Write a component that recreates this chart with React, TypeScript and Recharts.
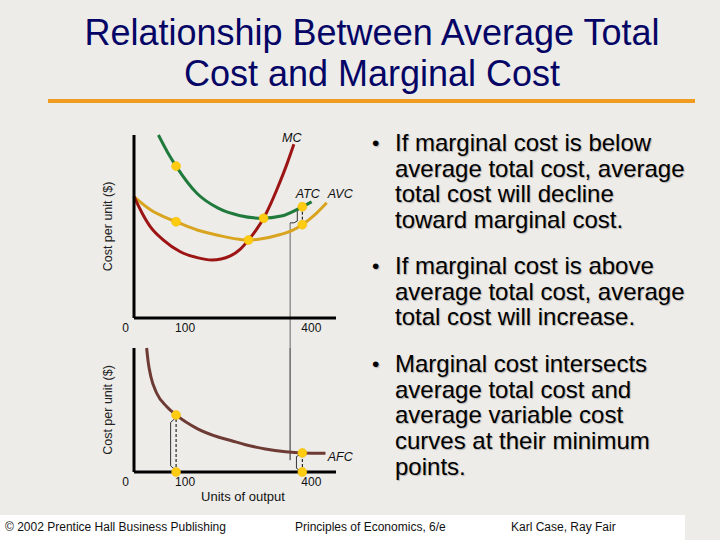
import { ComposedChart, Line, XAxis, YAxis, ReferenceLine, ReferenceDot } from 'recharts';

// cost curves, top panel: [units of output, cost per unit]
const ATC = [[58, 100], [80, 90.5], [100, 83], [150, 68], [200, 60], [250, 56], [305, 54.5], [350, 55.7], [400, 60.8], [422, 63.5]];
const AVC = [[0, 66.3], [40, 59], [70, 55.4], [100, 52.6], [150, 48.1], [200, 45.2], [250, 43], [272, 42.6], [300, 43.2], [348, 45.6], [375, 47.8], [400, 51], [430, 56.5], [458, 63]];
const MC = [[0, 66.3], [20, 57], [40, 49.5], [70, 42.6], [110, 36.2], [150, 33], [185, 31.7], [229, 34], [252, 37.5], [272, 42.6], [290, 48], [308, 54.5], [325, 62.5], [340, 70.5], [364, 84.5], [380, 95]];
const TOP_DOTS = [[100, 83], [100, 52.6], [272, 42.6], [308, 54.5], [400, 60.8], [400, 51]];
const TOP_DASH = [[400, 51], [400, 60.8]];
const TOP_BRACE = [[396, 60], [388, 58.5], [388, 53], [380, 52], [371, 52]];

// bottom panel
const AFC = [[30, 100], [34, 88], [40, 77], [54, 63.5], [78, 52.7], [100, 46], [150, 35], [200, 28.2], [230, 25.4], [265, 22], [312, 18.6], [360, 16.4], [400, 15.4], [455, 15.1]];
const AFC_DOTS = [[100, 46], [100, 0], [400, 15.4], [400, 0]];
const AFC_DASH_100 = [[100, 0], [100, 46]];
const AFC_DASH_400 = [[400, 0], [400, 15.4]];
const AFC_BRACE_100 = [[97, 43], [87, 40], [87, 5], [97, 2]];
const AFC_BRACE_400 = [[395, 14], [386, 12.5], [386, 3], [395, 1]];

const X_TICKS = [0, 100, 400];

const BULLETS = [
  ['If marginal cost is below', 'average total cost, average', 'total cost will decline', 'toward marginal cost.'],
  ['If marginal cost is above', 'average total cost, average', 'total cost will increase.'],
  ['Marginal cost intersects', 'average total cost and', 'average variable cost', 'curves at their minimum', 'points.'],
];

const FOOTER = ['© 2002 Prentice Hall Business Publishing', 'Principles of Economics, 6/e', 'Karl Case, Ray Fair'];

const pts = (a: number[][]) => a.map(([x, y]) => ({ x, y }));

const DOT = { r: 4.5, fill: '#ffcc11', stroke: '#f0b800', strokeWidth: 0.5 };

const XTick = ({ x, y, payload }: any) => (
  <text x={x + (payload.value === 0 ? -5 : -1)} y={y} dy="0.71em" fontSize={12}
    textAnchor={payload.value === 0 ? 'end' : 'start'} fill="#111">{payload.value}</text>
);

const curveLabel = (value: string) => ({ value, position: 'center' as const, fontSize: 12.5, fontStyle: 'italic', fill: '#111' });
const yLabel = { value: 'Cost per unit ($)', angle: -90, position: 'center' as const, dx: -2, fontSize: 12.5, fill: '#222' };

export default function App() {
  return (
    <div style={{
      position: 'absolute', left: 0, top: 0, width: 720, height: 540, overflow: 'hidden',
      background: '#edece9', fontFamily: '"Liberation Sans", Arial, sans-serif',
    }}>
      <style>{'.recharts-surface{overflow:visible}'}</style>

      <div style={{ position: 'absolute', left: 0, top: 12, width: 744, textAlign: 'center', color: '#050566', fontSize: 36, lineHeight: '41px' }}>
        Relationship Between Average Total<br />Cost and Marginal Cost
      </div>
      <div style={{ position: 'absolute', left: 48, top: 99, width: 647, height: 4, background: '#f09c20' }} />

      {/* top panel */}
      <div style={{ position: 'absolute', left: 85, top: 125 }}>
        <ComposedChart width={265} height={220} margin={{ top: 10, right: 14, left: 0, bottom: 7 }}>
          <XAxis type="number" dataKey="x" domain={[0, 480]} ticks={X_TICKS} height={20}
            axisLine={{ stroke: '#000', strokeWidth: 3 }} tickLine={false} tickSize={0} tickMargin={5} tick={<XTick />} />
          <YAxis type="number" dataKey="y" domain={[0, 100]} width={49} tick={false} tickLine={false}
            axisLine={{ stroke: '#000', strokeWidth: 3 }} label={yLabel} />
          <ReferenceLine segment={[{ x: 371, y: 52 }, { x: 371, y: -77.6 }]} stroke="#666" strokeWidth={1} ifOverflow="visible" />
          <Line data={pts(TOP_BRACE)} dataKey="y" type="linear" stroke="#333" strokeWidth={1} dot={false} isAnimationActive={false} />
          <Line data={pts(TOP_DASH)} dataKey="y" type="linear" stroke="#000" strokeWidth={1} strokeDasharray="3 2" dot={false} isAnimationActive={false} />
          <Line data={pts(AVC)} dataKey="y" type="monotone" stroke="#d9a520" strokeWidth={3} dot={false} isAnimationActive={false} />
          <Line data={pts(ATC)} dataKey="y" type="monotone" stroke="#1f7a3c" strokeWidth={3} dot={false} isAnimationActive={false} />
          <Line data={pts(MC)} dataKey="y" type="monotone" stroke="#9c1414" strokeWidth={3} dot={false} isAnimationActive={false} />
          <Line data={pts(TOP_DOTS)} dataKey="y" type="linear" stroke="none" dot={DOT} isAnimationActive={false} />
          <ReferenceDot x={375} y={98.7} r={0} fill="none" stroke="none" ifOverflow="visible" label={curveLabel('MC')} />
          <ReferenceDot x={413} y={68.1} r={0} fill="none" stroke="none" ifOverflow="visible" label={curveLabel('ATC')} />
          <ReferenceDot x={490} y={68.1} r={0} fill="none" stroke="none" ifOverflow="visible" label={curveLabel('AVC')} />
        </ComposedChart>
      </div>

      {/* bottom panel */}
      <div style={{ position: 'absolute', left: 85, top: 338 }}>
        <ComposedChart width={265} height={166} margin={{ top: 10, right: 14, left: 0, bottom: 0 }}>
          <XAxis type="number" dataKey="x" domain={[0, 480]} ticks={X_TICKS} height={32}
            axisLine={{ stroke: '#000', strokeWidth: 3 }} tickLine={false} tickSize={0} tickMargin={5} tick={<XTick />}
            label={{ value: 'Units of output', position: 'insideBottom', offset: 3, dx: 8, fontSize: 13, fill: '#111' }} />
          <YAxis type="number" dataKey="y" domain={[0, 100]} width={49} tick={false} tickLine={false}
            axisLine={{ stroke: '#000', strokeWidth: 3 }} label={yLabel} />
          <Line data={pts(AFC_BRACE_100)} dataKey="y" type="linear" stroke="#333" strokeWidth={1} dot={false} isAnimationActive={false} />
          <Line data={pts(AFC_BRACE_400)} dataKey="y" type="linear" stroke="#333" strokeWidth={1} dot={false} isAnimationActive={false} />
          <ReferenceLine segment={[{ x: 371, y: 100 }, { x: 371, y: 9.5 }]} stroke="#666" strokeWidth={1} ifOverflow="visible" />
          <Line data={pts(AFC_DASH_100)} dataKey="y" type="linear" stroke="#000" strokeWidth={1} strokeDasharray="3 2" dot={false} isAnimationActive={false} />
          <Line data={pts(AFC_DASH_400)} dataKey="y" type="linear" stroke="#000" strokeWidth={1} strokeDasharray="3 2" dot={false} isAnimationActive={false} />
          <Line data={pts(AFC)} dataKey="y" type="monotone" stroke="#6e3a34" strokeWidth={3} dot={false} isAnimationActive={false} />
          <Line data={pts(AFC_DOTS)} dataKey="y" type="linear" stroke="none" dot={DOT} isAnimationActive={false} />
          <ReferenceDot x={490} y={12.2} r={0} fill="none" stroke="none" ifOverflow="visible" label={curveLabel('AFC')} />
        </ComposedChart>
      </div>

      {/* bullet text */}
      {BULLETS.map((lines, i) => (
        <div key={i} style={{
          position: 'absolute', left: 372, top: [130, 253, 351][i], fontSize: 24, lineHeight: '25.7px',
          color: '#000', textShadow: '1px 1px 1px #b0b0b0', whiteSpace: 'nowrap',
        }}>
          <span style={{ position: 'absolute', left: 0, top: 0, fontSize: 21 }}>•</span>
          <div style={{ paddingLeft: 23 }}>
            {lines.map((l, j) => <div key={j}>{l}</div>)}
          </div>
        </div>
      ))}

      {/* footer */}
      <div style={{ position: 'absolute', left: 0, top: 515, width: 685, height: 25, background: '#fff' }} />
      {FOOTER.map((t, i) => (
        <div key={t} style={{
          position: 'absolute', left: [5, 295, 511][i], top: 519, fontSize: 12, lineHeight: '16px', color: '#111',
          fontFamily: '"Liberation Sans Narrow", "Liberation Sans", Arial, sans-serif', whiteSpace: 'nowrap',
        }}>{t}</div>
      ))}
    </div>
  );
}
